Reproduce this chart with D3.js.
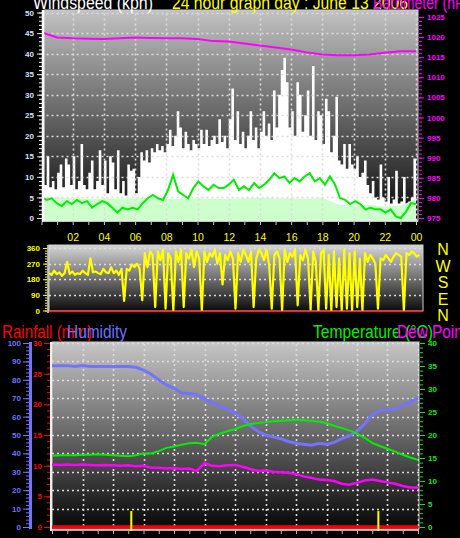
<!DOCTYPE html>
<html>
<head>
<meta charset="utf-8">
<script src="https://cdn.jsdelivr.net/npm/d3@7/dist/d3.min.js"></script>
<style>
body { margin: 0; background: #000; }
svg { display: block; font-family: "Liberation Sans", Arial, sans-serif; }
</style>
</head>
<body>
<svg id="svg" width="460" height="538"></svg>
<script>
// wind gust, 10 minute samples (kph)
var windGust = [7,8,15,7.5,9,7,11,13,7.5,14.5,13,8,15,7,9,18,8,7,11,14,7,9,16.5,8,14,6,15,13.5,7,16.5,
    6,9,5.5,13,11.5,12,6,10,16,14,16.5,13.5,17,16,18,16.5,17.5,16,18,21.5,17.5,20,26,22,17,21,18,16.5,19,18,
    17,21.5,18,21.5,17.5,19,20,18,24,18.5,20,17,24,31.5,19,26,18,21,17,20,26,19,22,17,21,26,20,23,19,31,
    22,30,36,39,33,22,26,20,33,30,21,25,31,20,37,19,26,25,18,29,26,16,20,29.5,14,13,18,12,18,13,
    12,15,10,11,14,8,6,9,5,4.5,13,5,4,10,3.5,4.5,11.5,3.5,4,10,3,4,5,14.5];
// wind speed, hourly (kph)
var windSpeed = [5,5,4.8,4.6,4.8,4.7,4.8,4.9,4.7,4.6,4.8,4.7,4.7,4.8,4.9,4.8,4.8,4.7,4.9,3.3,3.0,3.2,2.8,3.0,4.6];
// average wind, evenly spaced over the day (kph)
var windAvg = [5.1,4.4,4.8,3.6,2.9,4.1,3.4,4.4,3.6,4.1,2.5,3.4,4.1,3.6,2.5,1.3,2.5,2.1,2.5,2.1,
    3.6,4.8,5.6,4.8,4.4,6.8,10.5,6.5,5.6,4.8,7.3,8.9,7.7,6.8,8.1,7.3,7.3,8.1,9.3,6.8,7.7,6.8,8.5,7.3,8.1,9.3,10.9,9.7,
    10.1,8.5,9.7,8.9,10.1,10.9,8.9,9.7,8.1,10.1,8.1,4.8,4.4,3.4,4.1,3.4,2.1,2.5,2.1,2.1,1.3,2.1,0.4,0,1.5,3.6,3.4];
// barometer, hourly (hPa)
var barometer = [1021.2,1019.9,1019.7,1019.6,1019.5,1019.7,1019.9,1019.8,1019.7,1019.7,1019.5,1019.0,1018.9,
    1018.4,1017.9,1017.4,1016.9,1016.2,1015.7,1015.5,1015.5,1015.7,1016.1,1016.5,1016.5];
// wind direction, 10 minute samples (degrees)
var windDir = [215,205,230,210,220,200, 215,280,210,225,205,215, 210,230,215,205,300,220, 225,215,210,240,220,215,
    250,215,230,205,240,55, 240,230,265,250,270,240, 60,330,250,340,320,20, 340,290,350,10,330,300,
    0,340,280,350,20,330, 300,350,250,340,300,0, 340,280,330,310,350,270, 330,150,320,290,340,300,
    10,330,280,350,320,280, 340,20,300,350,330,290, 350,260,10,320,340,300, 0,350,280,330,310,350,
    30,320,290,350,300,5, 340,280,0,330,350,10, 320,0,340,20,300,0, 350,10,330,0,340,20,
    300,0,330,280,320,300, 270,10,300,290,320,300, 280,310,330,320,310,0, 330,320,340,330,310,320];
var compass = ["N", "W", "S", "E", "N"];
// half hourly values
var humidity = [87.7,87.7,87.7,87.2,87.7,87.2,87.2,87.2,87.2,87.2,87.2,86.8,85.3,83,80,77.2,75.3,72.8,72.5,72,
    69.5,67.8,65.5,64,62,59,55,52,50,49,48,46.5,45.5,45,44.5,45.5,45,46,48,49.5,52,56,61,63.5,63.8,64,66,68,70];
var temperature = [15.5,15.6,15.6,15.6,15.7,15.7,15.8,15.7,15.6,15.5,15.4,15.6,16,16,16.5,17.2,17.5,17.9,18.2,18.3,
    18.0,19.6,20.3,20.8,21.3,21.9,22.4,22.6,22.8,23,23.1,23.2,23.3,23.2,23.1,22.9,22.6,22,21.5,21,20.3,19.4,18.3,
    17.6,17,16.4,15.7,15.1,14.6];
var dewPoint = [13.6,13.5,13.6,13.5,13.6,13.5,13.4,13.5,13.4,13.3,13.4,13.2,13.3,12.9,12.9,12.7,12.8,12.6,12.7,12.2,
    13.9,13.3,13.2,13.4,13.5,13.1,12.6,12.2,12.3,12.0,11.9,11.8,11.5,11.0,10.7,10.3,10.2,10.0,9.4,9.2,
    9.6,10.1,10.3,10.0,9.7,9.4,8.9,8.6,8.6];
var rainfall = [0, 0];
var rainRateHours = [5.2, 21.4];
var rainRate = [2.6, 2.6];

var svg = d3.select("#svg");
var defs = svg.append("defs");
var font = "'Liberation Sans', Arial, sans-serif";

// spread a series evenly over the 24 hours
function series(values) {
    return values.map(function (v, i) {
        return {h: i * 24 / (values.length - 1), v: v};
    });
}
function steps(values) {
    var pts = values.map(function (v, i) {
        return {h: i * 24 / values.length, v: v};
    });
    pts.push({h: 24, v: values[values.length - 1]});
    return pts;
}

function gradient(id, c0, c1) {
    var g = defs.append("linearGradient").attr("id", id)
            .attr("x1", 0).attr("y1", 0).attr("x2", 0).attr("y2", 1);
    g.append("stop").attr("offset", "0%").attr("stop-color", c0);
    g.append("stop").attr("offset", "100%").attr("stop-color", c1);
}

function panel(id, x, y, w, h, fill) {
    defs.append("clipPath").attr("id", "clip-" + id)
            .append("rect").attr("x", x).attr("y", y).attr("width", w).attr("height", h);
    svg.append("rect").attr("x", x).attr("y", y).attr("width", w).attr("height", h)
            .attr("fill", "url(#" + fill + ")")
            .attr("stroke", "#cfcfcf").attr("stroke-width", 1);
    return svg.append("g").attr("clip-path", "url(#clip-" + id + ")");
}

function dotted(g, x, y, xs, ys) {
    var xr = x.range(), yr = y.range();
    g.selectAll(null).data(ys).enter().append("line")
            .attr("x1", xr[0]).attr("x2", xr[1] + 4)
            .attr("y1", function (d) { return Math.round(y(d)) + 0.5; })
            .attr("y2", function (d) { return Math.round(y(d)) + 0.5; })
            .attr("stroke", "#dcdcdc").attr("stroke-width", 1.6).attr("stroke-dasharray", "2,3");
    g.selectAll(null).data(xs).enter().append("line")
            .attr("x1", function (d) { return Math.round(x(d)) + 0.5; })
            .attr("x2", function (d) { return Math.round(x(d)) + 0.5; })
            .attr("y1", yr[1] - 4).attr("y2", yr[0] + 4)
            .attr("stroke", "#dcdcdc").attr("stroke-width", 1.6).attr("stroke-dasharray", "2,3");
}

function styleAxis(g, color, size) {
    g.attr("font-family", font).attr("font-size", size || 8).attr("font-weight", "bold");
    g.select(".domain").remove();
    g.selectAll("line").attr("stroke", color);
    g.selectAll("text").attr("fill", color);
    return g;
}

function title(x, y, text, color, width) {
    svg.append("text").attr("x", x).attr("y", y)
            .attr("fill", color)
            .attr("font-family", font).attr("font-size", 18)
            .attr("textLength", width).attr("lengthAdjust", "spacingAndGlyphs")
            .text(text);
}

gradient("bgTop", "#c2c2c2", "#080808");
gradient("bgMid", "#d6d6d6", "#0c0c0c");
gradient("bgBot", "#c6c6c6", "#060606");

// ---------- wind / barometer ----------
var xTop = d3.scaleLinear().domain([0, 24]).range([41.5, 416]);
var yWind = d3.scaleLinear().domain([0, 50]).range([218, 12.5]);
var yBaro = d3.scaleLinear().domain([975, 1025]).range([218, 17]);

var windG = panel("top", 44, 10, 374, 211, "bgTop");

windG.append("path")
        .datum(steps(windGust))
        .attr("fill", "#ffffff")
        .attr("d", d3.area().curve(d3.curveStepAfter)
                .x(function (d) { return xTop(d.h); })
                .y0(yWind(0))
                .y1(function (d) { return yWind(d.v); }));

windG.append("path")
        .datum(series(windSpeed))
        .attr("fill", "#ccffcc")
        .attr("d", d3.area()
                .x(function (d) { return xTop(d.h); })
                .y0(yWind(0) + 4)
                .y1(function (d) { return yWind(d.v); }));

dotted(windG, xTop, yWind, d3.range(2, 25, 2), d3.range(5, 51, 5));

windG.append("path")
        .datum(series(windAvg))
        .attr("fill", "none").attr("stroke", "#00ee00").attr("stroke-width", 2)
        .attr("d", d3.line()
                .x(function (d) { return xTop(d.h); })
                .y(function (d) { return yWind(d.v); }));

windG.append("path")
        .datum(series(barometer))
        .attr("fill", "none").attr("stroke", "#ff00ff").attr("stroke-width", 2)
        .attr("d", d3.line()
                .x(function (d) { return xTop(d.h); })
                .y(function (d) { return yBaro(d.v); }));

// axes
svg.append("line").attr("x1", 43).attr("x2", 43).attr("y1", 10).attr("y2", 222)
        .attr("stroke", "#fff").attr("stroke-width", 2.5);
svg.append("line").attr("x1", 42).attr("x2", 418).attr("y1", 221).attr("y2", 221)
        .attr("stroke", "#e8e8e8").attr("stroke-width", 1.5);

styleAxis(svg.append("g").attr("transform", "translate(42,0)")
        .call(d3.axisLeft(yWind).tickValues(d3.range(0, 51)).tickSize(3).tickFormat("")), "#fff");
styleAxis(svg.append("g").attr("transform", "translate(42,0)")
        .call(d3.axisLeft(yWind).tickValues(d3.range(0, 51, 5)).tickSize(5).tickPadding(3)), "#d4e2ff");

styleAxis(svg.append("g").attr("transform", "translate(419,0)")
        .call(d3.axisRight(yBaro).tickValues(d3.range(975, 1026)).tickSize(3).tickFormat("")), "#ff00ff");
styleAxis(svg.append("g").attr("transform", "translate(419,0)")
        .call(d3.axisRight(yBaro).tickValues(d3.range(975, 1026, 5)).tickSize(5).tickPadding(3)
                .tickFormat(d3.format("d"))), "#ff00ff");

var xAxisTop = styleAxis(svg.append("g").attr("transform", "translate(0,222)")
        .call(d3.axisBottom(xTop).tickValues(d3.range(0, 25)).tickSize(3).tickPadding(9)
                .tickFormat(function (d) {
                    return d > 0 && d % 2 === 0 ? d3.format("02")(d % 24) : "";
                })), "#cccccc", 10.5);
xAxisTop.attr("font-weight", "normal");
xAxisTop.selectAll("text").attr("fill", "#ffff00");

title(33, 9, "Windspeed (kph)", "#ffffff", 120);
title(172, 9, "24 hour graph day : June 13 2006", "#ffff00", 236);
title(373, 9, "Barometer (hPa)", "#ff00ff", 104);

// ---------- wind direction ----------
var xMid = d3.scaleLinear().domain([0, 24]).range([49, 422]);
var yDir = d3.scaleLinear().domain([0, 360]).range([310.5, 248]);
var yCompass = d3.scalePoint().domain(d3.range(compass.length)).range([255, 321]);

var dirG = panel("mid", 49, 245, 374, 66, "bgMid");
dirG.selectAll(null).data([90, 180, 270, 360]).enter().append("line")
        .attr("x1", 49).attr("x2", 423)
        .attr("y1", function (d) { return Math.round(yDir(d)) + 0.5; })
        .attr("y2", function (d) { return Math.round(yDir(d)) + 0.5; })
        .attr("stroke", "#dcdcdc").attr("stroke-width", 1.6).attr("stroke-dasharray", "2,3");

dirG.append("path")
        .datum(steps(windDir).slice(0, windDir.length))
        .attr("fill", "none").attr("stroke", "#ffff00").attr("stroke-width", 2.2)
        .attr("stroke-linejoin", "round")
        .attr("d", d3.line()
                .x(function (d) { return xMid(d.h); })
                .y(function (d) { return yDir(d.v); }));

svg.append("line").attr("x1", 49).attr("x2", 423).attr("y1", 311.5).attr("y2", 311.5)
        .attr("stroke", "#ff2020").attr("stroke-width", 1.5);
svg.append("line").attr("x1", 48).attr("x2", 48).attr("y1", 245).attr("y2", 313)
        .attr("stroke", "#e0e0e0").attr("stroke-width", 1.5);

styleAxis(svg.append("g").attr("transform", "translate(47,0)")
        .call(d3.axisLeft(yDir).tickValues(d3.range(0, 361, 15)).tickSize(2).tickFormat("")), "#ffff00");
styleAxis(svg.append("g").attr("transform", "translate(47,0)")
        .call(d3.axisLeft(yDir).tickValues([0, 90, 180, 270, 360]).tickSize(4).tickPadding(3)), "#ffff00");

svg.selectAll(".compass").data(compass).enter().append("text")
        .attr("class", "compass")
        .attr("x", 443)
        .attr("y", function (d, i) { return yCompass(i); })
        .attr("text-anchor", "middle")
        .attr("fill", "#ffff00")
        .attr("font-family", font).attr("font-size", 16)
        .text(function (d) { return d; });

// ---------- rain / humidity / temperature ----------
var xBot = d3.scaleLinear().domain([0, 24]).range([52, 418]);
var yHum = d3.scaleLinear().domain([0, 100]).range([527, 343]);
var yRain = d3.scaleLinear().domain([0, 30]).range([527, 343]);
var yTemp = d3.scaleLinear().domain([0, 40]).range([527, 343]);

var climG = panel("bot", 52, 342, 367, 187, "bgBot");
dotted(climG, xBot, yHum, d3.range(2, 25, 2), d3.range(10, 101, 10));

function lineOf(y) {
    return d3.line()
            .x(function (d) { return xBot(d.h); })
            .y(function (d) { return y(d.v); });
}

climG.append("path").datum(series(humidity))
        .attr("fill", "none").attr("stroke", "#7373ff").attr("stroke-width", 3)
        .attr("d", lineOf(yHum));
climG.append("path").datum(series(temperature))
        .attr("fill", "none").attr("stroke", "#00f000").attr("stroke-width", 2)
        .attr("d", lineOf(yTemp));
climG.append("path").datum(series(dewPoint))
        .attr("fill", "none").attr("stroke", "#ff00ff").attr("stroke-width", 2.5)
        .attr("d", lineOf(yTemp));
climG.append("path").datum(series(rainfall))
        .attr("fill", "none").attr("stroke", "#ff0000").attr("stroke-width", 3.5)
        .attr("d", lineOf(yRain));

svg.selectAll(".rate").data(rainRate).enter().append("line")
        .attr("class", "rate")
        .attr("x1", function (d, i) { return xBot(rainRateHours[i]); })
        .attr("x2", function (d, i) { return xBot(rainRateHours[i]); })
        .attr("y1", function (d) { return yRain(d); })
        .attr("y2", yRain(0) + 4)
        .attr("stroke", "#ffff00").attr("stroke-width", 2);

svg.append("line").attr("x1", 51).attr("x2", 51).attr("y1", 342).attr("y2", 531)
        .attr("stroke", "#f0f0f0").attr("stroke-width", 2);
svg.append("line").attr("x1", 50).attr("x2", 419).attr("y1", 530).attr("y2", 530)
        .attr("stroke", "#e0e0e0").attr("stroke-width", 1.5);
svg.append("line").attr("x1", 30.5).attr("x2", 30.5).attr("y1", 342).attr("y2", 529)
        .attr("stroke", "#7373ff").attr("stroke-width", 3);

styleAxis(svg.append("g").attr("transform", "translate(29,0)")
        .call(d3.axisLeft(yHum).tickValues(d3.range(0, 101, 2)).tickSize(3).tickFormat("")), "#7373ff");
styleAxis(svg.append("g").attr("transform", "translate(29,0)")
        .call(d3.axisLeft(yHum).tickValues(d3.range(0, 101, 10)).tickSize(6).tickPadding(2)), "#7373ff");
styleAxis(svg.append("g").attr("transform", "translate(50,0)")
        .call(d3.axisLeft(yRain).tickValues(d3.range(0, 31)).tickSize(3).tickFormat("")), "#ff0000");
styleAxis(svg.append("g").attr("transform", "translate(50,0)")
        .call(d3.axisLeft(yRain).tickValues(d3.range(0, 31, 5)).tickSize(6).tickPadding(2)), "#ff0000");
styleAxis(svg.append("g").attr("transform", "translate(420,0)")
        .call(d3.axisRight(yTemp).tickValues(d3.range(0, 41)).tickSize(3).tickFormat("")), "#00ee00");
styleAxis(svg.append("g").attr("transform", "translate(420,0)")
        .call(d3.axisRight(yTemp).tickValues(d3.range(0, 41, 5)).tickSize(5).tickPadding(3)), "#00ee00");
styleAxis(svg.append("g").attr("transform", "translate(0,530)")
        .call(d3.axisBottom(xBot).tickValues(d3.range(0, 25)).tickSize(4).tickFormat("")), "#bbbbbb");

title(2, 338, "Rainfall (mm)", "#ff0000", 90);
title(67, 338, "Humidity", "#7070ff", 60);
title(313, 338, "Temperature (°C)", "#00ee00", 120);
title(397, 338, "Dew Point", "#ff00ff", 70);
</script>
</body>
</html>
